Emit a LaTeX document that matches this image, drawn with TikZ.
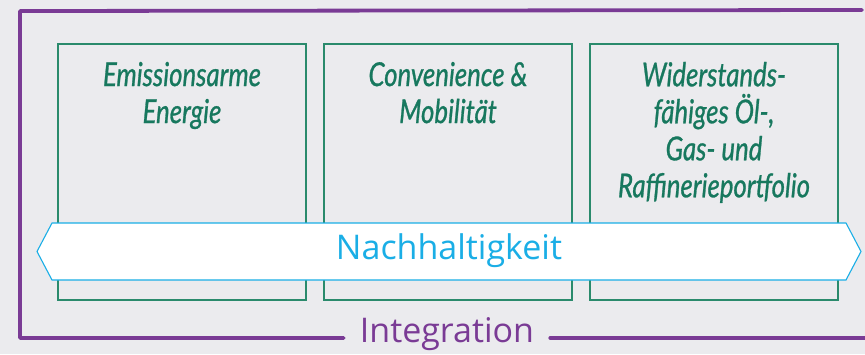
\documentclass[tikz,border=0pt]{standalone}
\usepackage{fontspec}
\setmainfont{Open Sans}
\newfontfamily\handfont[FakeStretch=0.78,FakeBold=0.8]{Lato Italic}
\usetikzlibrary{positioning}

\definecolor{bggray}{HTML}{EBEBEE}
\definecolor{pillargreen}{HTML}{2A8A6C}
\definecolor{handgreen}{HTML}{17785E}
\definecolor{bandblue}{HTML}{1AAEE6}
\definecolor{framepurple}{HTML}{7A3B95}

\tikzset{
  pillar/.style={draw=pillargreen, line width=1.1pt, minimum width=248pt,
    minimum height=256pt, inner sep=0pt},
  pillartext/.style={text=handgreen, align=center, anchor=north,
    font=\handfont\fontsize{33}{37}\selectfont},
  band/.style={draw=bandblue, line width=1.1pt, fill=white, line join=miter},
  brush/.style={draw=framepurple, line width=3.8pt, line cap=round, line join=round},
}

\begin{document}
\begin{tikzpicture}[x=1pt, y=-1pt]

\newcommand\PX{266}; %% pillar spacing
\newcommand\PY{172};

\fill[bggray] (0,0) rectangle (865,354);
\useasboundingbox (0,0) rectangle (865,354);

%% pillars
\node[pillar] (emission) at (182,\PY) {};
\node[pillar] (mobility) at (182+\PX,\PY) {};
\node[pillar] (resilience) at (182+2*\PX,\PY) {};

\node[pillartext] (emissiontxt) at ([yshift=-15pt]emission.north)
  {Emissionsarme\\Energie};
\node[pillartext] (mobilitytxt) at ([yshift=-15pt]mobility.north)
  {Convenience \&\\Mobilität};
\node[pillartext] (resiliencetxt) at ([yshift=-15pt]resilience.north)
  {Widerstands-\\fähiges Öl-,\\Gas- und\\Raffinerieportfolio};

%% band across the pillars
\coordinate (bandW) at (37,251.5);
\coordinate (bandE) at (861,251.5);
\draw[band] (bandW) -- (52,223) -- (846,223) -- (bandE) -- (846,280)
  -- (52,280) -- cycle;
\node[text=bandblue, font=\fontsize{34}{40}\selectfont] (sustain)
  at (449,251) {Nachhaltigkeit};

%% frame
\node[text=framepurple, font=\fontsize{34}{40}\selectfont, inner xsep=16pt]
  (integration) at (447,334) {Integration};
\coordinate (frameSW) at (20,338);
\coordinate (frameNW) at (20,11);
\coordinate (frameNE) at (862,10);
\coordinate (frameSE) at (865,338);
\draw[brush] (integration.west |- frameSW) -- (frameSW) -- (frameNW) -- (frameNE);
\draw[brush] (integration.east |- frameSE) -- (frameSE);

\end{tikzpicture}
\end{document}
